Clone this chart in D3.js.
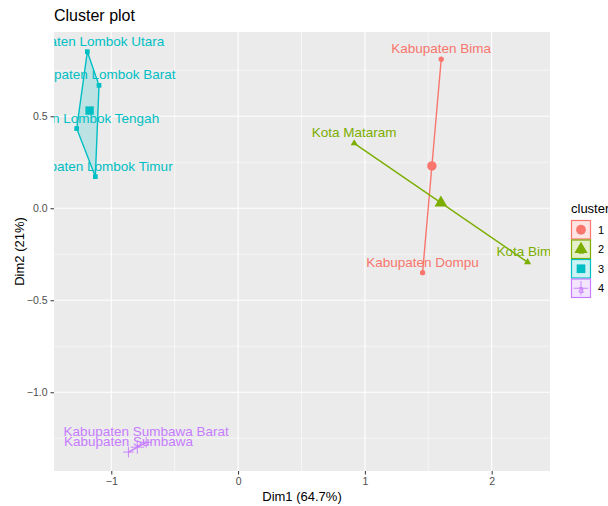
<!DOCTYPE html>
<html>
<head>
<meta charset="utf-8">
<script src="https://cdn.jsdelivr.net/npm/d3@7"></script>
<style>
  body { margin: 0; background: #fff; }
  svg { display: block; font-family: "Liberation Sans", Arial, Helvetica, sans-serif; }
</style>
</head>
<body>
<svg id="chart" width="608" height="506"></svg>
<script>
// Regions (observations) of the k-means cluster plot
const names = [
  "Kabupaten Lombok Utara", "Kabupaten Lombok Barat", "Kabupaten Lombok Tengah", "Kabupaten Lombok Timur",
  "Kabupaten Bima", "Kabupaten Dompu",
  "Kota Mataram", "Kota Bima",
  "Kabupaten Sumbawa Barat", "Kabupaten Sumbawa"
];
const dim1 = [-1.189, -1.097, -1.273, -1.126, 1.602, 1.455, 0.916, 2.283, -0.725, -0.865];
const dim2 = [0.851, 0.668, 0.433, 0.172, 0.810, -0.350, 0.353, -0.293, -1.272, -1.325];
const clusterOf = [3, 3, 3, 3, 1, 1, 2, 2, 4, 4];

const clusters = [1, 2, 3, 4];
const clusterColors = ["#F8766D", "#7CAE00", "#00BFC4", "#C77CFF"];

const xTicks = [-1, 0, 1, 2];
const yTicks = [-1.0, -0.5, 0.0, 0.5];
const xMinor = [-0.5, 0.5, 1.5];
const yMinor = [-1.25, -0.75, -0.25, 0.25, 0.75];

const svg = d3.select("#chart");
const panel = { left: 54, right: 550, top: 32, bottom: 471 };

const x = d3.scaleLinear().domain([-1.452, 2.46]).range([panel.left, panel.right]);
const y = d3.scaleLinear().domain([-1.428, 0.958]).range([panel.bottom, panel.top]);
const color = d3.scaleOrdinal().domain(clusters).range(clusterColors);
const shapeOf = d3.scaleOrdinal().domain(clusters)
  .range([d3.symbolCircle, d3.symbolTriangle, d3.symbolSquare, d3.symbolPlus]);

// Cluster 4 uses an open plus; the others are solid shapes
const isStroked = c => c === 4;
function styleSymbol(sel, getCluster) {
  return sel
    .attr("fill", d => isStroked(getCluster(d)) ? "none" : color(getCluster(d)))
    .attr("stroke", d => isStroked(getCluster(d)) ? color(getCluster(d)) : "none")
    .attr("stroke-width", 0.9);
}

const points = names.map((n, i) => ({ name: n, x: dim1[i], y: dim2[i], cluster: clusterOf[i] }));

// Title
svg.append("text").attr("x", 54).attr("y", 21)
  .attr("font-size", 16).attr("fill", "#000").text("Cluster plot");

// Panel background
svg.append("rect")
  .attr("x", panel.left).attr("y", panel.top)
  .attr("width", panel.right - panel.left).attr("height", panel.bottom - panel.top)
  .attr("fill", "#EBEBEB");

svg.append("clipPath").attr("id", "panelClip").append("rect")
  .attr("x", panel.left).attr("y", panel.top)
  .attr("width", panel.right - panel.left).attr("height", panel.bottom - panel.top);

const grid = svg.append("g");
grid.selectAll(".vminor").data(xMinor).join("line")
  .attr("x1", d => x(d)).attr("x2", d => x(d))
  .attr("y1", panel.top).attr("y2", panel.bottom)
  .attr("stroke", "#fff").attr("stroke-width", 0.55);
grid.selectAll(".hminor").data(yMinor).join("line")
  .attr("y1", d => y(d)).attr("y2", d => y(d))
  .attr("x1", panel.left).attr("x2", panel.right)
  .attr("stroke", "#fff").attr("stroke-width", 0.55);
grid.selectAll(".vmajor").data(xTicks).join("line")
  .attr("x1", d => x(d)).attr("x2", d => x(d))
  .attr("y1", panel.top).attr("y2", panel.bottom)
  .attr("stroke", "#fff").attr("stroke-width", 1.1);
grid.selectAll(".hmajor").data(yTicks).join("line")
  .attr("y1", d => y(d)).attr("y2", d => y(d))
  .attr("x1", panel.left).attr("x2", panel.right)
  .attr("stroke", "#fff").attr("stroke-width", 1.1);

// Axes
const xAxis = d3.axisBottom(x).tickValues(xTicks).tickSize(3.5).tickPadding(3)
  .tickFormat(d3.format("d"));
const yAxis = d3.axisLeft(y).tickValues(yTicks).tickSize(3.5).tickPadding(3)
  .tickFormat(d3.format(".1f"));

const gx = svg.append("g").attr("transform", `translate(0,${panel.bottom})`).call(xAxis);
const gy = svg.append("g").attr("transform", `translate(${panel.left},0)`).call(yAxis);
[gx, gy].forEach(g => {
  g.select(".domain").remove();
  g.selectAll(".tick line").attr("stroke", "#333").attr("stroke-width", 1);
  g.selectAll(".tick text").attr("fill", "#4D4D4D").attr("font-size", 10.5)
    .attr("font-family", "Liberation Sans, Arial, sans-serif");
});

svg.append("text").attr("x", (panel.left + panel.right) / 2).attr("y", 501)
  .attr("text-anchor", "middle").attr("font-size", 13).text("Dim1 (64.7%)");
svg.append("text")
  .attr("transform", `translate(24,${(panel.top + panel.bottom) / 2}) rotate(-90)`)
  .attr("text-anchor", "middle").attr("font-size", 13).text("Dim2 (21%)");

const plot = svg.append("g").attr("clip-path", "url(#panelClip)");

// Observation points
plot.selectAll(".pt").data(points).join("path")
  .attr("transform", d => `translate(${x(d.x)},${y(d.y)})`)
  .attr("d", d => d3.symbol().type(shapeOf(d.cluster)).size(isStroked(d.cluster) ? 40 : 22)())
  .call(styleSymbol, d => d.cluster);

// Observation labels
plot.selectAll(".lbl").data(points).join("text")
  .attr("x", d => x(d.x)).attr("y", d => y(d.y) - 6)
  .attr("text-anchor", "middle")
  .attr("font-size", 13.5)
  .attr("fill", d => color(d.cluster))
  .text(d => d.name);

// Convex hulls of each cluster
const groups = d3.groups(points, d => d.cluster);
groups.forEach(([c, pts]) => {
  const xy = pts.map(p => [x(p.x), y(p.y)]);
  const hull = xy.length >= 3 ? d3.polygonHull(xy) : xy;
  plot.append("path")
    .attr("d", "M" + hull.map(p => p.join(",")).join("L") + "Z")
    .attr("fill", color(c)).attr("fill-opacity", 0.2)
    .attr("stroke", color(c)).attr("stroke-width", 1.4)
    .attr("stroke-linejoin", "round");
});

// Cluster centres
const centres = groups.map(([c, pts]) => ({
  cluster: c,
  x: d3.mean(pts, p => p.x),
  y: d3.mean(pts, p => p.y)
}));
plot.selectAll(".ctr").data(centres).join("path")
  .attr("transform", d => `translate(${x(d.x)},${y(d.y)})`)
  .attr("d", d => d3.symbol().type(shapeOf(d.cluster)).size(isStroked(d.cluster) ? 60 : 70)())
  .call(styleSymbol, d => d.cluster);

// Legend
const legend = svg.append("g");
legend.append("text").attr("x", 571).attr("y", 213)
  .attr("font-size", 13).attr("fill", "#000").text("cluster");
const keyH = 19.5, keyTop = 220;
clusters.forEach((c, i) => {
  const ky = keyTop + i * keyH;
  const g = legend.append("g");
  g.append("rect").attr("x", 571.5).attr("y", ky + 0.5).attr("width", 19).attr("height", keyH - 1)
    .attr("fill", color(c)).attr("fill-opacity", 0.2)
    .attr("stroke", color(c)).attr("stroke-width", 1.2);
  g.append("text").attr("x", 581).attr("y", ky + 14).attr("text-anchor", "middle")
    .attr("font-size", 10).attr("fill", color(c)).text("a");
  g.append("path")
    .datum(c)
    .attr("transform", `translate(581,${ky + keyH / 2})`)
    .attr("d", d3.symbol().type(shapeOf(c)).size(isStroked(c) ? 70 : 75)())
    .call(styleSymbol, d => d);
  g.append("text").attr("x", 598).attr("y", ky + keyH / 2 + 4)
    .attr("font-size", 11).attr("fill", "#000").text(c);
});
</script>
</body>
</html>
